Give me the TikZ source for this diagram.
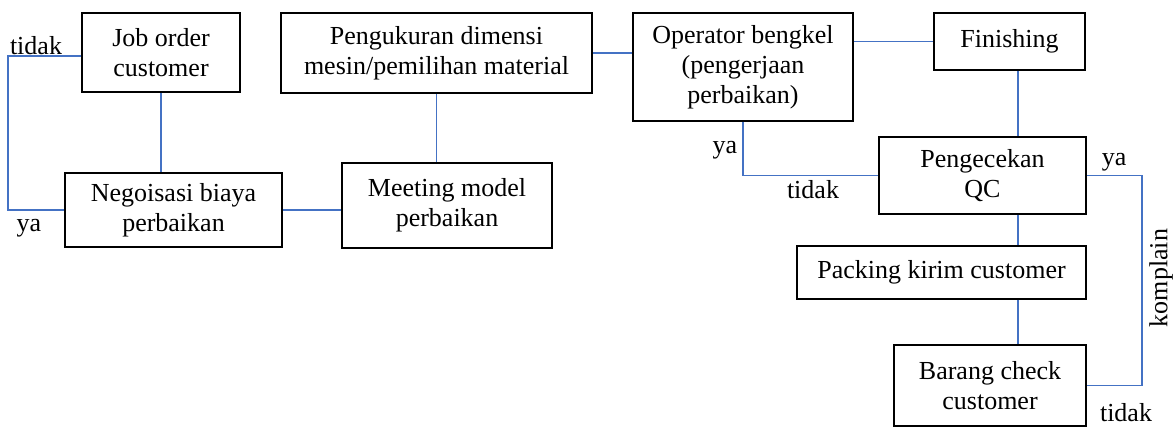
\documentclass[tikz,border=0pt]{standalone}
\usepackage{fontspec}
\setmainfont{Liberation Serif}
\usepackage{tikz}
\definecolor{wordblue}{RGB}{68,114,196}

\begin{document}
\begin{tikzpicture}[
    x=0.75pt, y=-0.75pt,
    box/.style 2 args={draw, line width=1.2pt, align=center, inner sep=0pt,
        minimum width=#1*0.75pt, minimum height=#2*0.75pt,
        font=\fontsize{19.5}{22.5}\selectfont},
    link/.style={line width=1.1pt, wordblue},
    label/.style={inner sep=0pt, font=\fontsize{19.5}{22.5}\selectfont}
]
    \useasboundingbox (0,0) rectangle (1176,428);

    % process boxes
    \node[box={158}{79}]  (job)    at (161,52.5)   {Job order\\customer};
    \node[box={217}{74}]  (nego)   at (173.5,210)  {Negoisasi biaya\\perbaikan};
    \node[box={311}{80}]  (ukur)   at (436.5,53)   {Pengukuran dimensi\\mesin/pemilihan material};
    \node[box={210}{85}]  (meet)   at (447,205.5)  {Meeting model\\perbaikan};
    \node[box={220}{108}] (oper)   at (743,67)     {Operator bengkel\\(pengerjaan\\perbaikan)};
    \node[box={151}{57}]  (fin)    at (1009.5,41.5) {Finishing};
    \node[box={207}{77}]  (qc)     at (982.5,175.5) {Pengecekan\\QC};
    \node[box={289}{53}]  (pack)   at (941.5,272.5) {Packing kirim customer};
    \node[box={192}{81}]  (barang) at (990,385.5)  {Barang check\\customer};

    % corner points of the loops
    \coordinate (lt) at (8,56);
    \coordinate (col) at (1018,0);
    \coordinate (rt) at (1142,0);

    % connectors
    \draw[link] (job.west |- lt) -- (lt) -- (lt |- nego.west) -- (nego.west);
    \draw[link] (job.south) -- (job.south |- nego.north);
    \draw[link] (nego.east) -- (nego.east -| meet.west);
    \draw[link] (ukur.east) -- (ukur.east -| oper.west);
    \draw[link] (ukur.south) -- (ukur.south |- meet.north);
    \draw[link] (fin.west -| oper.east) -- (fin.west);
    \draw[link] (col |- fin.south) -- (col |- qc.north);
    \draw[link] (oper.south) |- (qc.west);
    \draw[link] (qc.east) -- (qc.east -| rt) -- (rt |- barang.east) -- (barang.east);
    \draw[link] (col |- qc.south) -- (col |- pack.north);
    \draw[link] (col |- pack.south) -- (col |- barang.north);

    % branch labels
    \node[label] (l1) at (36,46)    {tidak};
    \node[label] (l2) at (29,228)   {ya};
    \node[label] (l3) at (725,150)  {ya};
    \node[label] (l4) at (813,190)  {tidak};
    \node[label] (l5) at (1114,162) {ya};
    \node[label, rotate=90] (l6) at (1161,278) {komplain};
    \node[label] (l7) at (1126,413) {tidak};
\end{tikzpicture}
\end{document}
